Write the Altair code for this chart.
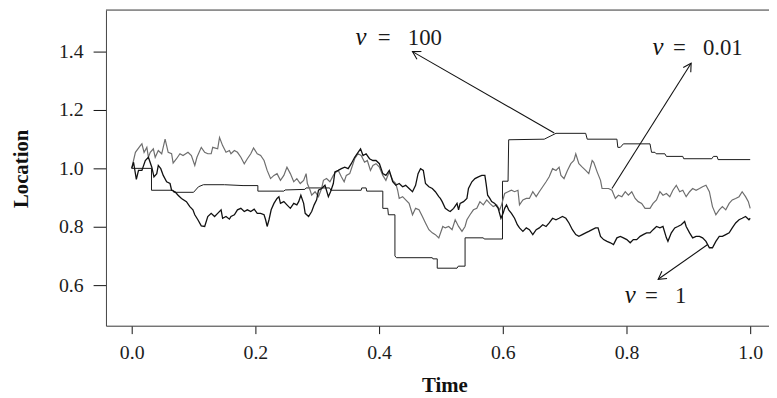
import math
import altair as alt
import pandas as pd

# ---------------- data ----------------
# nu = 0.01  (grey path)
t_g = [0, .006, .014, .0165, .020, .0245, .027, .030, .035, .038, .043, .0485, .054, .059, .0645, .067, .0725, .078,
       .083, .091, .0965, .102, .1055, .1125, .118, .123, .1285, .131, .139, .142, .147, .1525, .158, .1605, .166,
       .171, .1765, .182, .187, .1925, .197, .203, .2085, .214, .219, .2245, .230, .235, .2405, .246, .251, .2565,
       .262, .267, .2725, .278, .282, .284, .2885, .291, .2965, .302, .307, .31, .315, .3205, .326, .329, .334, .339,
       .3435, .347, .3525, .356, .3605, .366, .371, .3765, .381, .386, .390, .395, .4005, .406, .411, .4165, .422,
       .427, .430, .4325, .438, .443, .4485, .454, .459, .4645, .470, .475, .4805, .486, .491, .4965, .503, .507,
       .5125, .518, .523, .5285, .534, .539, .542, .547, .5525, .558, .563, .5685, .574, .579, .5845, .590, .595,
       .598, .603, .6085, .614, .619, .6245, .627, .6325, .638, .643, .6485, .654, .659, .6645, .670, .675, .6805,
       .686, .691, .694, .699, .7045, .710, .715, .718, .723, .7285, .734, .739, .7445, .747, .7525, .758, .7605,
       .766, .771, .7765, .782, .787, .7925, .798, .803, .8085, .814, .819, .8245, .830, .838, .843, .8485, .854,
       .859, .8645, .870, .875, .8805, .886, .891, .8965, .902, .907, .9125, .918, .923, .9285, .934, .939, .9445,
       .950, .955, .9605, .966, .971, .9765, .982, .987, .9925, .997, 1.0]
v_g = [1.0, 1.055, 1.078, 1.084, 1.055, 1.072, 1.038, 1.055, 1.067, 1.038, 1.061, 1.05, 1.10, 1.055, 1.05, 1.018,
       1.033, 1.05, 1.044, 1.055, 1.044, 1.01, 1.038, 1.072, 1.055, 1.05, 1.05, 1.072, 1.067, 1.106, 1.078, 1.055,
       1.061, 1.05, 1.061, 1.055, 1.038, 1.016, 1.033, 1.05, 1.07, 1.05, 1.044, 1.027, .993, .965, .976, .982, .959,
       .976, 1.004, .982, .954, .965, .948, .959, .982, .948, .925, .908, .92, .903, .931, .959, .965, .954, .976,
       .985, .993, .971, .954, .976, .982, 1.004, 1.033, 1.05, 1.044, 1.021, 1.027, .993, 1.01, 1.016, 1.004, .976,
       .959, .988, .959, .948, .925, .897, .903, .892, .88, .841, .863, .858, .835, .813, .79, .779, .773, .762,
       .801, .796, .801, .79, .824, .801, .784, .801, .824, .841, .858, .863, .886, .875, .892, .88, .869, .875,
       .858, .875, .914, .92, .925, .92, .925, .875, .892, .897, .897, .92, .903, .92, .937, .954, .971, .999, .993,
       1.004, .976, .965, .993, 1.016, 1.027, 1.05, 1.016, 1.004, .993, .982, 1.027, 1.021, .988, .959, .931, .931,
       .931, .925, .897, .908, .903, .92, .908, .92, .897, .886, .88, .863, .863, .88, .892, .92, .908, .914, .903,
       .925, .942, .92, .925, .903, .92, .931, .925, .931, .937, .942, .92, .869, .841, .858, .869, .858, .88, .892,
       .897, .903, .92, .903, .886, .863]

# nu = 1  (black path)
t_b = [0, .003, .0075, .011, .0165, .022, .027, .0325, .036, .0405, .043, .047, .051, .0565, .062, .0645, .070, .075,
       .0805, .0885, .094, .099, .102, .107, .1125, .118, .123, .1285, .134, .139, .1445, .147, .1525, .158, .1605,
       .166, .171, .1765, .182, .187, .1925, .198, .203, .2085, .214, .2165, .219, .222, .2255, .230, .235, .238,
       .2405, .246, .251, .2565, .262, .267, .270, .2735, .278, .2805, .286, .291, .295, .299, .302, .307, .3125,
       .318, .3215, .326, .3285, .334, .339, .3445, .350, .355, .3605, .366, .370, .374, .379, .3845, .390, .395,
       .4005, .406, .411, .4165, .422, .427, .4325, .438, .443, .4485, .454, .459, .463, .467, .4715, .475, .4805,
       .486, .491, .4965, .499, .502, .507, .5125, .515, .5205, .526, .5285, .531, .5365, .542, .5445, .550, .555,
       .5605, .566, .571, .573, .5755, .579, .582, .587, .5925, .597, .6005, .603, .606, .6095, .614, .619, .6235,
       .627, .6325, .638, .643, .6485, .654, .659, .6645, .670, .675, .6805, .686, .691, .6965, .702, .707, .7125,
       .718, .723, .7285, .734, .739, .7445, .750, .754, .758, .763, .7685, .774, .779, .7845, .790, .795, .8005,
       .806, .811, .8165, .822, .827, .8325, .838, .843, .8485, .854, .859, .8645, .867, .8725, .878, .883, .8885,
       .894, .8965, .902, .907, .9125, .918, .923, .9285, .934, .939, .9445, .950, .955, .9605, .966, .971, .9765,
       .982, .987, .9925, .998, 1.0]
v_b = [1.0, 1.021, .962, .993, .993, 1.027, 1.038, 1.004, .971, .982, 1.01, .999, .976, .954, .948, .925, .92, .908,
       .897, .886, .869, .858, .841, .824, .803, .801, .835, .846, .835, .846, .858, .829, .835, .826, .835, .841,
       .858, .863, .852, .858, .852, .86, .846, .846, .841, .824, .801, .824, .858, .88, .897, .903, .88, .886, .875,
       .863, .88, .875, .886, .908, .88, .846, .835, .852, .875, .892, .925, .931, .942, .903, .92, .948, .988, .993,
       .999, 1.004, .999, 1.016, 1.038, 1.055, 1.067, 1.044, 1.05, 1.033, 1.027, 1.027, 1.016, .982, .976, .993,
       .954, .942, .948, .937, .942, .931, .92, .942, .982, .999, .993, .948, .937, .931, .92, .903, .897, .886,
       .863, .855, .852, .863, .88, .858, .88, .886, .897, .931, .954, .965, .971, .976, .976, .948, .908, .897,
       .886, .88, .863, .829, .846, .863, .875, .858, .846, .829, .807, .796, .784, .796, .79, .773, .79, .796, .807,
       .801, .813, .829, .824, .829, .835, .829, .813, .79, .773, .767, .773, .779, .784, .79, .796, .796, .767,
       .756, .75, .745, .739, .762, .767, .762, .756, .745, .756, .756, .767, .773, .779, .779, .79, .801, .796,
       .801, .762, .75, .779, .796, .801, .807, .818, .801, .779, .762, .767, .767, .762, .75, .728, .728, .75,
       .767, .767, .773, .779, .796, .813, .824, .829, .835, .824, .829]

# nu = 100  (piecewise-constant path)
t_s = [0, .032, .032, .067, .068, .100, .108, .116, .150, .18, .204, .204, .246, .248, .28, .282, .32, .322, .371,
       .372, .379, .380, .406, .406, .414, .415, .4256, .4256, .428, .486, .487, .494, .494, .526, .528, .539, .539,
       .5685, .57, .5995, .5995, .6085, .6095, .667, .686, .734, .7365, .7845, .786, .79, .795, .838, .8405, .846,
       .848, .862, .8645, .891, .8925, .938, .9405, .9465, .948, 1.0]
v_s = [1.0, 1.0, .925, .925, .918, .918, .937, .944, .944, .941, .941, .922, .922, .926, .928, .933, .933, .925, .925,
       .933, .933, .922, .922, .863, .863, .841, .841, .700, .694, .694, .690, .690, .658, .658, .665, .665, .762,
       .762, .758, .758, .956, .956, 1.098, 1.10, 1.12, 1.12, 1.10, 1.10, 1.072, 1.072, 1.084, 1.084, 1.055,
       1.055, 1.05, 1.05, 1.041, 1.041, 1.033, 1.033, 1.041, 1.041, 1.03, 1.03]

x_ticks = [0.0, 0.2, 0.4, 0.6, 0.8, 1.0]
y_ticks = [0.6, 0.8, 1.0, 1.2, 1.4]

# annotations: label value, text anchor (nu, "= value"), arrow start -> tip
ann_value = ["100", "0.01", "1"]
ann_nu_t = [0.362, 0.842, 0.797]
ann_eq_t = [0.398, 0.8752, 0.83]
ann_v = [1.4227, 1.3888, 0.539]
arrow_t0 = [0.6832, 0.7765, 0.9312]
arrow_v0 = [1.121, 0.931, 0.739]
arrow_t1 = [0.454, 0.9045, 0.8512]
arrow_v1 = [1.40, 1.36, 0.620]

# ---------------- chart ----------------
W, H = 670, 319
XMIN, XMAX = -0.0416, 1.0304
YMIN, YMAX = 0.461, 1.5424
FONT = "Liberation Serif"
INK = "#111111"
TXT = "#1c1c1c"

xs = alt.Scale(domain=[XMIN, XMAX], nice=False, zero=False)
ys = alt.Scale(domain=[YMIN, YMAX], nice=False, zero=False)

x_axis = alt.Axis(values=x_ticks, format=".1f", title="Time", grid=False,
                  tickSize=8, tickColor=INK, tickWidth=1, domainColor="#444", domainWidth=1,
                  labelFont=FONT, labelFontSize=20, labelColor=TXT, labelPadding=9, labelFlush=False,
                  titleFont=FONT, titleFontSize=21, titleFontWeight="bold", titleColor=INK,
                  titleX=342, titleY=66, titleBaseline="alphabetic", titleAlign="center")
y_axis = alt.Axis(values=y_ticks, format=".1f", title="Location", grid=False,
                  tickSize=13, tickColor=INK, tickWidth=1, domainColor="#444", domainWidth=1,
                  labelFont=FONT, labelFontSize=20, labelColor=TXT, labelPadding=10, labelFlush=False,
                  titleFont=FONT, titleFontSize=21, titleFontWeight="bold", titleColor=INK,
                  titleAngle=270, titleX=-79, titleY=160, titleBaseline="alphabetic", titleAlign="center")


def X(field="t"):
    return alt.X(f"{field}:Q", scale=xs, axis=x_axis)


def Y(field="v"):
    return alt.Y(f"{field}:Q", scale=ys, axis=y_axis)


def path_layer(t, v, color, width):
    df = pd.DataFrame({"t": t, "v": v, "i": list(range(len(t)))})
    return alt.Chart(df).mark_line(color=color, strokeWidth=width, interpolate="linear").encode(
        x=X(), y=Y(), order="i:Q")


step_layer = path_layer(t_s, v_s, "#1a1a1a", 1.0)
grey_layer = path_layer(t_g, v_g, "#6e6e6e", 1.2)
black_layer = path_layer(t_b, v_b, "#111111", 1.3)

top_border = alt.Chart(pd.DataFrame({"v": [YMAX]})).mark_rule(color="#444", strokeWidth=1).encode(y=Y())

# arrows
sx = W / (XMAX - XMIN)
sy = H / (YMAX - YMIN)
angles = []
for a0, b0, a1, b1 in zip(arrow_t0, arrow_v0, arrow_t1, arrow_v1):
    dx = (a1 - a0) * sx
    dy = -(b1 - b0) * sy
    angles.append(math.degrees(math.atan2(dx, -dy)) % 360)

arrow_df = pd.DataFrame({"t": arrow_t0, "v": arrow_v0, "t2": arrow_t1, "v2": arrow_v1})
arrow_lines = alt.Chart(arrow_df).mark_rule(color=INK, strokeWidth=1.1).encode(
    x=X(), y=Y(), x2="t2:Q", y2="v2:Q")

head_df = pd.DataFrame({"t": arrow_t1, "v": arrow_v1, "ang": angles})
ARROW_LEN = 9
arrow_heads = alt.Chart(head_df).mark_point(
    shape="M -0.5 0.866 L 0 0 L 0.5 0.866", size=4 * ARROW_LEN ** 2, filled=False,
    stroke=INK, strokeWidth=1.1, opacity=1).encode(
    x=X(), y=Y(), angle=alt.Angle("ang:Q", scale=None))

nu_df = pd.DataFrame({"t": ann_nu_t, "v": ann_v, "txt": ["ν"] * 3})
nu_text = alt.Chart(nu_df).mark_text(align="left", baseline="alphabetic", font=FONT, fontSize=25,
                                     fontStyle="italic", color=INK).encode(x=X(), y=Y(), text="txt:N")
eq_df = pd.DataFrame({"t": ann_eq_t, "v": ann_v,
                      "txt": ["=\u00a0\u00a0\u00a0" + s for s in ann_value]})
eq_text = alt.Chart(eq_df).mark_text(align="left", baseline="alphabetic", font=FONT, fontSize=23,
                                     color=TXT).encode(x=X(), y=Y(), text="txt:N")

chart = alt.layer(
    step_layer, grey_layer, black_layer, top_border, arrow_lines, arrow_heads, nu_text, eq_text
).properties(
    width=W, height=H,
    autosize=alt.AutoSizeParams(type="none"),
    padding={"left": 99, "top": 0, "right": 0, "bottom": 71},
).configure_view(stroke=None).configure(background="white")

chart.save("out.html", embed_options={"renderer": "svg", "actions": False})
